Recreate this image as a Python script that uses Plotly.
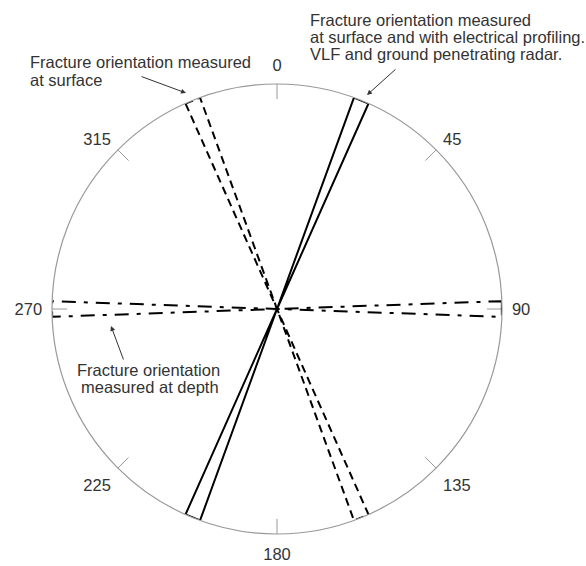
import plotly.graph_objects as go

# Compass directions (degrees clockwise from north) and their labels
tick_angles = [0, 45, 90, 135, 180, 225, 270, 315]
tick_labels = ["0", "45", "90", "135", "180", "225", "270", "315"]

# Fracture orientation bands: [start, end] in degrees (each band is symmetric through the centre)
surface_band = [336, 340]
combined_band = [20, 24]
depth_band = [88, 92]


def bowtie(band):
    a, b = band
    theta = [a, b, b, b + 180, a + 180, a + 180, a]
    r = [1, 1, 0, 1, 1, 0, 1]
    return r, theta


fig = go.Figure()

# short inward tick marks on the rim
tick_r, tick_t = [], []
for t in tick_angles:
    tick_r += [1, 0.933, None]
    tick_t += [t, t, None]
fig.add_trace(go.Scatterpolar(
    r=tick_r, theta=tick_t, mode="lines",
    line=dict(color="#999999", width=1), hoverinfo="skip", showlegend=False,
))

for band, dash in [(surface_band, "8px,5px"),
                   (combined_band, "solid"),
                   (depth_band, "14px,8px,4px,8px")]:
    r, theta = bowtie(band)
    fig.add_trace(go.Scatterpolar(
        r=r, theta=theta, mode="lines",
        line=dict(color="black", width=2, dash=dash),
        hoverinfo="skip", showlegend=False,
    ))

text_font = dict(family="Liberation Sans, Arial, sans-serif", size=16.5, color="#333333")

fig.update_layout(
    width=586, height=566,
    margin=dict(l=52, r=84, t=84, b=32),
    paper_bgcolor="white",
    plot_bgcolor="white",
    font=text_font,
    polar=dict(
        domain=dict(x=[0, 1], y=[0, 1]),
        bgcolor="white",
        radialaxis=dict(visible=False, range=[0, 1]),
        angularaxis=dict(
            rotation=90, direction="clockwise",
            tickmode="array", tickvals=tick_angles, ticktext=tick_labels,
            ticks="outside", ticklen=6, tickwidth=1, tickcolor="rgba(0,0,0,0)",
            showline=True, linecolor="#999999", linewidth=1.2,
            showgrid=False,
            tickfont=text_font,
        ),
    ),
)


def px_x(x):
    return (x - 52) / 450


def px_y(y):
    return (534 - y) / 450


def text_line(txt, x, y, anchor):
    return dict(text=txt, x=px_x(x), y=px_y(y), xanchor=anchor, yanchor="middle",
                showarrow=False)


def arrow(tip, tail):
    return dict(text="", x=px_x(tip[0]), y=px_y(tip[1]),
                ax=tail[0] - tip[0], ay=tail[1] - tip[1],
                showarrow=True, arrowhead=2, arrowsize=1, arrowwidth=1,
                arrowcolor="#333333")


annotations = [
    text_line("Fracture orientation measured", 28, 62, "left"),
    text_line("at surface", 28, 80, "left"),
    arrow((186, 93), (140, 76)),
    text_line("Fracture orientation measured", 308, 20, "left"),
    text_line("at surface and with electrical profiling.", 308, 37, "left"),
    text_line("VLF and ground penetrating radar.", 308, 54, "left"),
    arrow((367, 95), (397, 68)),
    text_line("Fracture orientation", 148, 370, "center"),
    text_line("measured at depth", 150, 387, "center"),
    arrow((111, 326), (124, 361)),
]
for a in annotations:
    a.update(xref="paper", yref="paper", font=text_font)
fig.update_layout(annotations=annotations)

fig.write_html("out.html")
